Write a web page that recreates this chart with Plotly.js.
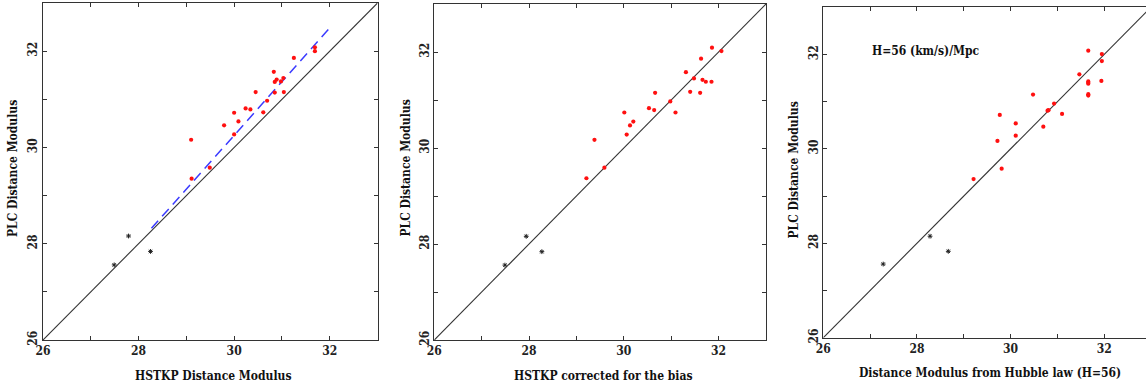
<!DOCTYPE html>
<html>
<head>
<meta charset="utf-8">
<script src="https://cdn.plot.ly/plotly-3.0.1.min.js"></script>
<style>
html,body{margin:0;padding:0;overflow:hidden;background:#fff;}
#chart{width:1160px;height:387px;}
</style>
</head>
<body>
<div id="chart"></div>
<script>
// ---------- data ----------
// Panel 1: HSTKP distance modulus vs PLC distance modulus
const p1RedX = [29.10, 29.11, 29.49, 29.79, 30.00, 30.00, 30.09, 30.24, 30.34, 30.45, 30.61, 30.69, 30.83, 30.85, 30.85, 30.89, 30.98, 31.03, 31.04, 31.25, 31.69, 31.69];
const p1RedY = [30.16, 29.35, 29.58, 30.46, 30.72, 30.27, 30.54, 30.81, 30.79, 31.15, 30.73, 30.97, 31.57, 31.36, 31.14, 31.41, 31.37, 31.44, 31.15, 31.86, 32.08, 32.00];
const p1StarX = [27.49, 27.79, 28.25];
const p1StarY = [27.56, 28.16, 27.84];
const fitX = [28.27, 31.99];
const fitY = [28.32, 32.47];

// Panel 2: HSTKP corrected for the bias
const p2RedX = [29.21, 29.38, 29.59, 30.01, 30.06, 30.13, 30.20, 30.53, 30.64, 30.66, 30.98, 31.09, 31.31, 31.40, 31.48, 31.63, 31.61, 31.66, 31.73, 31.85, 31.86, 32.06];
const p2RedY = [29.37, 30.17, 29.59, 30.74, 30.28, 30.47, 30.55, 30.83, 30.79, 31.15, 30.97, 30.74, 31.58, 31.17, 31.45, 31.86, 31.15, 31.42, 31.38, 31.38, 32.09, 32.02];
const p2StarX = [27.49, 27.94, 28.27];
const p2StarY = [27.56, 28.16, 27.84];

// Panel 3: distance modulus from Hubble law (H=56)
const p3RedX = [31.66, 31.95, 31.95, 31.47, 31.66, 31.66, 31.66, 31.94, 30.48, 31.66, 31.66, 30.93, 30.79, 30.81, 29.77, 31.10, 30.11, 30.70, 30.11, 29.72, 29.81, 29.21];
const p3RedY = [32.08, 32.01, 31.86, 31.58, 31.43, 31.40, 31.38, 31.44, 31.15, 31.16, 31.13, 30.96, 30.81, 30.82, 30.72, 30.74, 30.54, 30.47, 30.28, 30.17, 29.58, 29.36];
const p3StarX = [27.28, 28.28, 28.67];
const p3StarY = [27.56, 28.15, 27.83];

const diagX = [26, 33];
const diagY = [26, 33];

const tickVals = [26, 27, 28, 29, 30, 31, 32, 33];
const tickText = ['26', '', '28', '', '30', '', '32', ''];
const axisRange = [26, 33];

const xTitles = ['HSTKP Distance Modulus', 'HSTKP corrected for the bias', 'Distance Modulus from Hubble law (H=56)'];
const yTitle = 'PLC Distance Modulus';
const noteText = 'H=56 (km/s)/Mpc';

// ---------- layout helpers ----------
const W = 1160, H = 387;
const FONT = '"DejaVu Serif Condensed", "DejaVu Serif", serif';
const boxes = [
  {l: 43, r: 377.5, t: 3, b: 340},
  {l: 434.3, r: 766, t: 4, b: 340},
  {l: 823.3, r: 1151, t: 7.3, b: 337.7}
];
const xdom = b => [b.l / W, b.r / W];
const ydom = b => [1 - b.b / H, 1 - b.t / H];

function axisBase() {
  return {
    range: axisRange, tickmode: 'array', tickvals: tickVals, ticktext: tickText,
    ticks: 'inside', ticklen: 4, tickwidth: 1, tickcolor: '#333',
    showline: true, linecolor: '#333', linewidth: 1, mirror: 'ticks',
    showgrid: false, zeroline: false, fixedrange: true,
    tickfont: {family: FONT, size: 12, color: '#222', weight: 'bold'}
  };
}

const red = {color: '#ff1010', size: 4.2, symbol: 'circle'};
const star = {color: '#222', size: 4, symbol: 'asterisk-open', line: {color: '#222', width: 1}};
const diagLine = {color: '#333', width: 1.1};

const sets = [
  {rx: p1RedX, ry: p1RedY, sx: p1StarX, sy: p1StarY},
  {rx: p2RedX, ry: p2RedY, sx: p2StarX, sy: p2StarY},
  {rx: p3RedX, ry: p3RedY, sx: p3StarX, sy: p3StarY}
];

const traces = [];
sets.forEach((s, i) => {
  const xa = i === 0 ? 'x' : 'x' + (i + 1);
  const ya = i === 0 ? 'y' : 'y' + (i + 1);
  traces.push({x: diagX, y: diagY, xaxis: xa, yaxis: ya, mode: 'lines', line: diagLine, hoverinfo: 'skip', showlegend: false});
  if (i === 0) {
    traces.push({x: fitX, y: fitY, xaxis: xa, yaxis: ya, mode: 'lines', line: {color: '#3b3bff', width: 1.5, dash: '10px,6px'}, showlegend: false});
  }
  traces.push({x: s.rx, y: s.ry, xaxis: xa, yaxis: ya, mode: 'markers', marker: red, showlegend: false});
  traces.push({x: s.sx, y: s.sy, xaxis: xa, yaxis: ya, mode: 'markers', marker: star, showlegend: false});
});

const layout = {
  width: W, height: H,
  margin: {l: 0, r: 0, t: 0, b: 0},
  paper_bgcolor: '#fff', plot_bgcolor: '#fff',
  showlegend: false,
  annotations: []
};

const xTitlePos = [{x: 213, y: 376}, {x: 603, y: 376}, {x: 990, y: 373}];
const yTitlePos = [{x: 12.5, y: 168.5}, {x: 405, y: 168.5}, {x: 793.5, y: 170}];
const titleFont = {family: FONT, size: 12, color: '#111', weight: 'bold'};

boxes.forEach((b, i) => {
  const sfx = i === 0 ? '' : String(i + 1);
  const xa = Object.assign(axisBase(), {domain: xdom(b), anchor: 'y' + sfx});
  const ya = Object.assign(axisBase(), {domain: ydom(b), anchor: 'x' + sfx, tickangle: -90});
  layout['xaxis' + sfx] = xa;
  layout['yaxis' + sfx] = ya;
  layout.annotations.push({
    text: xTitles[i], xref: 'paper', yref: 'paper',
    x: xTitlePos[i].x / W, y: 1 - xTitlePos[i].y / H, xanchor: 'center', yanchor: 'middle',
    showarrow: false, font: titleFont
  });
  layout.annotations.push({
    text: yTitle, xref: 'paper', yref: 'paper', textangle: -90,
    x: yTitlePos[i].x / W, y: 1 - yTitlePos[i].y / H, xanchor: 'center', yanchor: 'middle',
    showarrow: false, font: titleFont
  });
});

layout.annotations.push({
  text: noteText, xref: 'x3', yref: 'y3', x: 27.0, y: 32.07,
  xanchor: 'left', yanchor: 'middle', showarrow: false,
  font: titleFont
});

Plotly.newPlot('chart', traces, layout, {displayModeBar: false, staticPlot: true});
</script>
</body>
</html>
